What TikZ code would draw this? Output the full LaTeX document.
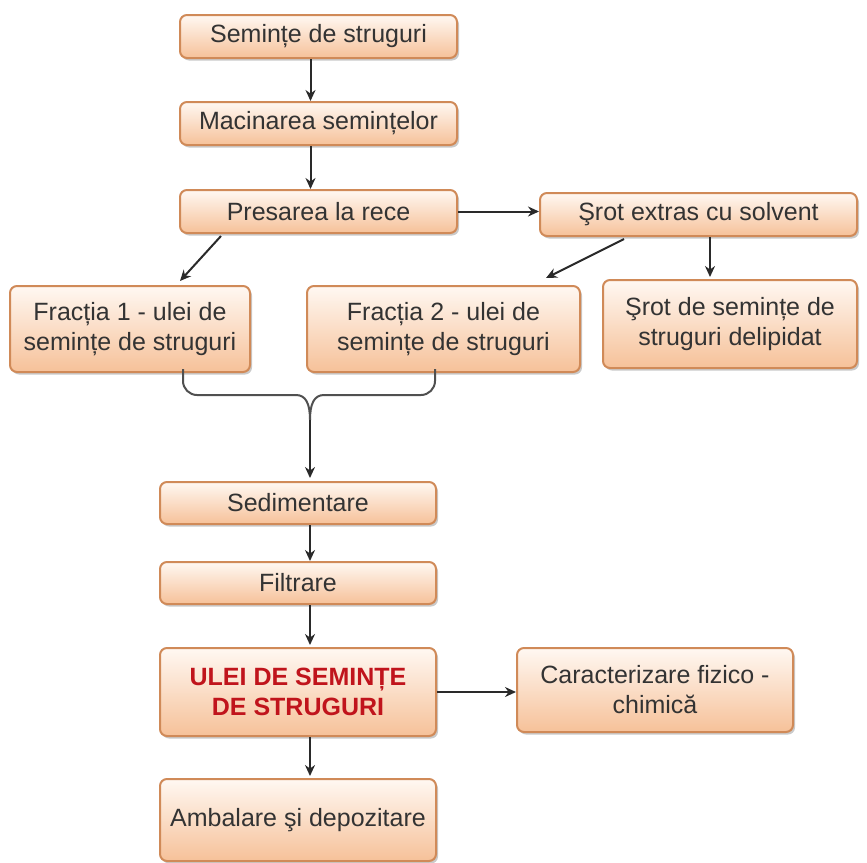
\documentclass[tikz,border=0pt]{standalone}
\usepackage{fontspec}
\setmainfont{Liberation Sans}
\usetikzlibrary{shadows,arrows.meta,calc}
\definecolor{boxborder}{HTML}{D08A58}
\definecolor{boxtop}{HTML}{FFF8F2}
\definecolor{boxbot}{HTML}{F6C199}
\definecolor{redtxt}{HTML}{C0141C}
\definecolor{arrowc}{HTML}{2A2A2A}
\definecolor{bracec}{HTML}{505050}
\tikzset{
  stepbox/.style={draw=boxborder, line width=2pt, rounded corners=7pt,
    top color=boxtop, bottom color=boxbot, align=center, inner sep=2pt,
    font=\fontsize{25}{30}\selectfont, text=black!80,
    drop shadow={shadow xshift=2pt, shadow yshift=-2.5pt, opacity=0.35, fill=black!60}},
  flow/.style={draw=arrowc, line width=2pt, -{Stealth[length=11pt,width=10pt]}},
  bracel/.style={draw=bracec, line width=2pt}
}
\begin{document}
\begin{tikzpicture}[x=1pt,y=-1pt]
\useasboundingbox (0,0) rectangle (867,862);
\node[stepbox, minimum width=277pt, minimum height=43pt] (s1) at (318.5,36.5) {Semințe de struguri};
\node[stepbox, minimum width=277pt, minimum height=43pt] (s2) at (318.5,123.5) {Macinarea semințelor};
\node[stepbox, minimum width=277pt, minimum height=43pt] (s3) at (318.5,211.5) {Presarea la rece};
\node[stepbox, minimum width=317pt, minimum height=43pt] (s4) at (698.5,214.5) {Şrot extras cu solvent};
\node[stepbox, minimum width=240pt, minimum height=86pt] (f1) at (130,329) {Fracția 1 - ulei de\\semințe de struguri};
\node[stepbox, minimum width=273pt, minimum height=86pt] (f2) at (443.5,329) {Fracția 2 - ulei de\\semințe de struguri};
\node[stepbox, minimum width=254pt, minimum height=88pt] (d) at (730,324) {Şrot de semințe de\\struguri delipidat};
\node[stepbox, minimum width=276pt, minimum height=42pt] (sed) at (298,503) {Sedimentare};
\node[stepbox, minimum width=276pt, minimum height=42pt] (fil) at (298,583) {Filtrare};
\node[stepbox, minimum width=276pt, minimum height=88pt, text=redtxt, font=\fontsize{25}{30}\selectfont\bfseries] (ulei) at (298,692) {ULEI DE SEMINȚE\\DE STRUGURI};
\node[stepbox, minimum width=276pt, minimum height=84pt] (car) at (655,690) {Caracterizare fizico -\\chimică};
\node[stepbox, minimum width=276pt, minimum height=82pt] (amb) at (298,820) {Ambalare şi depozitare};
% arrows
\draw[flow] ([xshift=-8pt]s1.south) -- ([xshift=-8pt]s2.north);
\draw[flow] ([xshift=-8pt]s2.south) -- ([xshift=-8pt]s3.north);
\draw[flow] (s3.east) -- (s3.east -| s4.west);
\draw[flow] ([xshift=42pt,yshift=-2pt]s3.south west) -- ([xshift=50pt,yshift=4pt]f1.north);
\draw[flow] ([xshift=85pt,yshift=-2pt]s4.south west) -- ([xshift=-35pt,yshift=7pt]f2.north east);
\draw[flow] ([xshift=11.5pt]s4.south) -- ([xshift=11.5pt,yshift=2pt]s4.south |- d.north);
% brace
\coordinate (j) at (310,420);
\draw[bracel, rounded corners=14pt] ([xshift=53pt,yshift=4pt]f1.south) -- (183,395) -- (296,395);
\draw[bracel] (296,395) .. controls (306,395) and (310,404) .. (j);
\draw[bracel, rounded corners=14pt] ([xshift=-8.5pt,yshift=4pt]f2.south) -- (435,395) -- (324,395);
\draw[bracel] (324,395) .. controls (314,395) and (310,404) .. (j);
\draw[flow] (j) -- ([xshift=12pt,yshift=3pt]sed.north);
\draw[flow] ([xshift=12pt]sed.south) -- ([xshift=12pt]fil.north);
\draw[flow] ([xshift=12pt]fil.south) -- ([xshift=12pt,yshift=2pt]ulei.north);
\draw[flow] (ulei.east) -- (ulei.east -| car.west);
\draw[flow] ([xshift=12pt]ulei.south) -- ([xshift=12pt,yshift=2pt]amb.north);
\end{tikzpicture}
\end{document}
